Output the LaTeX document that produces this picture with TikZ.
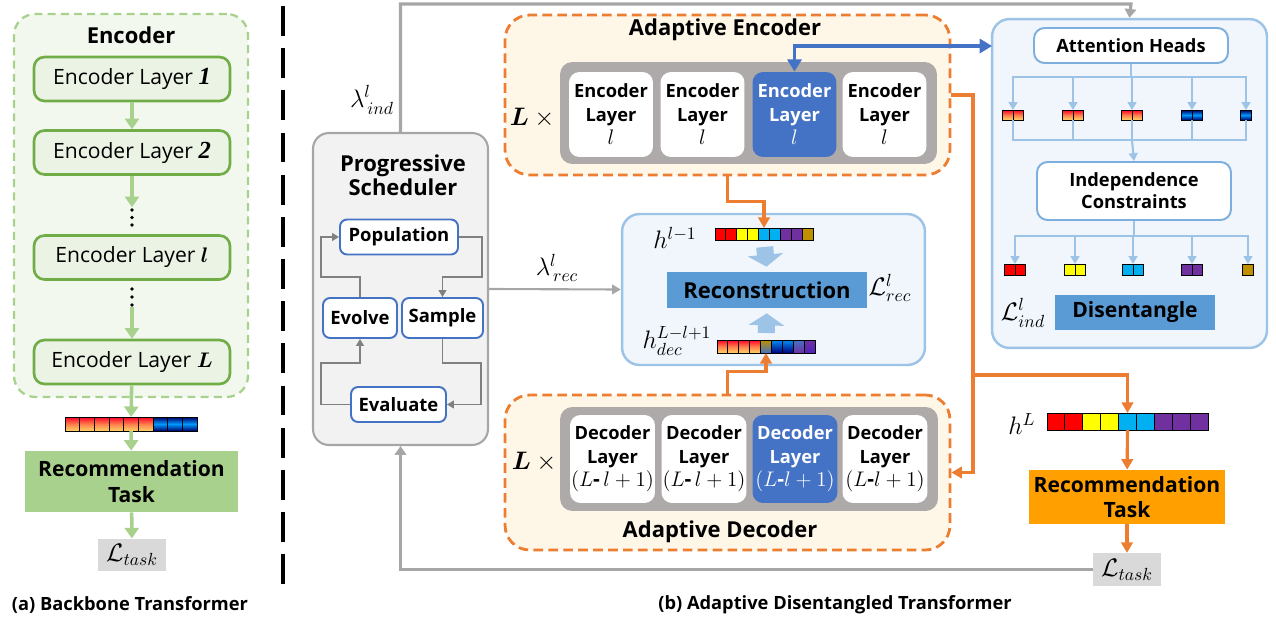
\documentclass[tikz,border=0pt]{standalone}
\usepackage{amsmath}
\usepackage{amssymb}
\usepackage{bm}
\usepackage{fontspec}
\setmainfont{Open Sans}
\newfontfamily\serifnum{Liberation Serif}
\usepackage{tikz}
\usetikzlibrary{arrows.meta}

\definecolor{encfill}{HTML}{F2F8EE}
\definecolor{layerfill}{HTML}{EBF3E4}
\definecolor{layerline}{HTML}{70AD47}
\definecolor{lightgreen}{HTML}{A9D18E}
\definecolor{lossgray}{HTML}{D9D9D9}
\definecolor{linegray}{HTML}{A6A6A6}
\definecolor{schedfill}{HTML}{F2F2F2}
\definecolor{loopgray}{HTML}{808080}
\definecolor{stepblue}{HTML}{4472C4}
\definecolor{adaorange}{HTML}{ED7D31}
\definecolor{adafill}{HTML}{FEF6E6}
\definecolor{innergray}{HTML}{AEAAAA}
\definecolor{panelfill}{HTML}{F0F6FC}
\definecolor{panelline}{HTML}{9DC3E6}
\definecolor{boxblue}{HTML}{5B9BD5}
\definecolor{taskorange}{HTML}{FFA000}
\definecolor{cellred}{HTML}{FF0000}
\definecolor{cellyellow}{HTML}{FFFF00}
\definecolor{cellcyan}{HTML}{00B0F0}
\definecolor{cellpurple}{HTML}{7030A0}
\definecolor{cellgold}{HTML}{BF9000}

\tikzset{
  % boxes
  encpanel/.style={draw=lightgreen, fill=encfill, line width=1.3pt, dash pattern=on 4.5pt off 3pt, rounded corners=12pt},
  enclayer/.style={draw=layerline, fill=layerfill, line width=1.5pt, rounded corners=6pt, minimum width=3.92cm, minimum height=0.88cm, font=\fontsize{12}{13}\selectfont},
  dotsnode/.style={minimum width=0.2cm, minimum height=0.4cm, inner sep=0pt},
  taskbox/.style={minimum width=3.92cm, minimum height=1.08cm, align=center, font=\fontsize{12}{14.5}\selectfont\bfseries, inner sep=0pt},
  lossbox/.style={fill=lossgray, minimum width=1.36cm, minimum height=0.65cm, font=\fontsize{14.4}{16}\selectfont, inner sep=0pt},
  schedbox/.style={draw=linegray, fill=schedfill, line width=1.2pt, rounded corners=9pt},
  stepbox/.style={draw=stepblue, fill=white, line width=1.1pt, rounded corners=4pt, minimum height=0.7cm, font=\fontsize{10.5}{12}\selectfont\bfseries, inner sep=0pt},
  adapanel/.style={draw=adaorange, fill=adafill, line width=1.6pt, dash pattern=on 5.5pt off 3pt, rounded corners=14pt},
  innerrow/.style={fill=innergray, rounded corners=7pt},
  layerbox/.style={fill=white, rounded corners=6pt, align=center, inner sep=0pt, font=\fontsize{10.4}{13.4}\selectfont\bfseries},
  activebox/.style={fill=stepblue, text=white},
  bluepanel/.style={draw=panelline, fill=panelfill, line width=1.4pt, rounded corners=10pt},
  whitebox/.style={draw=boxblue!80, fill=white, line width=1.1pt, rounded corners=6pt, minimum width=3.88cm, align=center, font=\fontsize{10.4}{12.5}\selectfont\bfseries},
  bluebox/.style={fill=boxblue, inner sep=0pt, font=\fontsize{12.5}{14}\selectfont\bfseries},
  titletext/.style={font=\fontsize{12.5}{13.6}\selectfont\bfseries, align=center},
  captiontext/.style={font=\fontsize{10.4}{12}\selectfont\bfseries},
  mathlabel/.style={font=\fontsize{14.4}{16}\selectfont, inner sep=1pt},
  barnode/.style={inner sep=0pt, outer sep=0pt},
  % cells
  cr/.style={fill=cellred, draw=black, line width=0.5pt},
  cy/.style={fill=cellyellow, draw=black, line width=0.5pt},
  cc/.style={fill=cellcyan, draw=black, line width=0.5pt},
  cp/.style={fill=cellpurple, draw=black, line width=0.5pt},
  cg/.style={fill=cellgold, draw=black, line width=0.5pt},
  cw/.style={top color=red!85!magenta, bottom color=yellow!45!orange!60, middle color=red!45!orange!70, draw=black, line width=0.5pt},
  cb/.style={top color=blue!40!black, bottom color=blue!40!black, middle color=cyan!60!blue, draw=black, line width=0.5pt},
  cgb/.style={top color=cellgold, bottom color=stepblue, draw=black, line width=0.5pt},
  ccb/.style={top color=cellcyan!80!blue, bottom color=blue!50!black, draw=black, line width=0.5pt},
  cbp/.style={top color=stepblue, bottom color=cellpurple, draw=black, line width=0.5pt},
  cpp/.style={top color=cellpurple, bottom color=cellpurple!70!blue, draw=black, line width=0.5pt},
  % connectors
  greenarrow/.style={draw=lightgreen, line width=2pt, -{Triangle[length=6pt,width=8pt]}},
  grayarrow/.style={draw=linegray, line width=1.8pt, -{Triangle[length=5pt,width=6.5pt]}},
  thingray/.style={draw=linegray, line width=1.2pt, -{Triangle[length=5pt,width=5.5pt]}},
  looparrow/.style={draw=loopgray, line width=0.8pt, -{Triangle[length=4pt,width=4.5pt]}},
  orangearrow/.style={draw=adaorange, line width=1.8pt, -{Triangle[length=6pt,width=6.5pt]}},
  bluearrow/.style={draw=stepblue, line width=2.2pt, {Triangle[length=7pt,width=8pt]}-{Triangle[length=7pt,width=8pt]}},
  headline/.style={draw=panelline, line width=1.2pt},
  headarrow/.style={headline, -{Triangle[length=4.5pt,width=5pt]}},
  bigarrow/.style={draw=panelline, line width=0.34cm, -{Triangle[length=0.24cm,width=0.7cm]}},
}

% a bar of cells below a named bar node: name, cell width, cell height, styles
\newcommand{\cellbar}[4]{%
  \foreach \s [count=\i from 0] in {#4}
    \path[\s] (#1.north west) ++(\i*#2,0) rectangle ++(#2,#3);
}

\begin{document}
\begin{tikzpicture}[x=0.02cm, y=-0.02cm]
\useasboundingbox (0,0) rectangle (1276,622);

% (a) backbone transformer
\node[encpanel, minimum width=4.68cm, minimum height=7.66cm] (encoder) at (131,205.5) {};
\node[titletext] (enctitle) at (131,35) {Encoder};
\node[enclayer] (enc1) at (132,79) {Encoder Layer {\serifnum\bfseries\itshape\fontsize{14}{14}\selectfont 1}};
\node[enclayer] (enc2) at (132,152.5) {Encoder Layer {\serifnum\bfseries\itshape\fontsize{14}{14}\selectfont 2}};
\node[dotsnode] (dots1) at (132,217.5) {};
\node[enclayer] (encl) at (132,257.5) {Encoder Layer $\boldsymbol{l}$};
\node[dotsnode] (dots2) at (132,297) {};
\node[enclayer] (encL) at (132,362) {Encoder Layer $\boldsymbol{L}$};
\fill (dots1.center) ++(0,-7.5) circle (1.1pt) ++(0,7.5) circle (1.1pt) ++(0,7.5) circle (1.1pt);
\fill (dots2.center) ++(0,-8) circle (1.1pt) ++(0,8) circle (1.1pt) ++(0,8) circle (1.1pt);

\draw[greenarrow] (enc1) -- (enc2);
\draw[greenarrow] (enc2) -- (dots1);
\draw[greenarrow] (dots2) -- (encL);

\node[barnode, minimum width=2.64cm, minimum height=0.28cm] (hback) at (131,424) {};
\cellbar{hback}{14.67}{14}{cw,cw,cw,cw,cw,cw,cb,cb,cb}
\node[taskbox, fill=lightgreen, minimum width=4.26cm, minimum height=1.22cm] (backtask) at (131.5,481.5) {Recommendation\\Task};
\node[lossbox] (backloss) at (132,555) {$\mathcal{L}_{task}$};

\draw[greenarrow] (encL) -- (hback);
\draw[greenarrow] (hback) -- (backtask);
\draw[greenarrow] (backtask) -- (backloss);

\node[captiontext] (capa) at (130,605) {(a) Backbone Transformer};

% divider
\draw[line width=2.4pt, dash pattern=on 17pt off 7pt] (283,6) -- (283,586);

% (b) progressive scheduler
\node[schedbox, minimum width=3.5cm, minimum height=6.24cm] (sched) at (400.5,289) {};
\node[titletext] (schedtitle) at (403,175) {Progressive\\Scheduler};
\node[stepbox, minimum width=2.36cm] (pop) at (399,237) {Population};
\node[stepbox, minimum width=1.48cm, minimum height=0.8cm] (evolve) at (360,318) {Evolve};
\node[stepbox, minimum width=1.62cm, minimum height=0.8cm] (sample) at (442.5,318) {Sample};
\node[stepbox, minimum width=1.9cm] (evaluate) at (398.5,404.5) {Evaluate};

\draw[looparrow] (pop.east) -| (482,277) -| (sample.north);
\draw[looparrow] (sample.south) |- (481,363) |- (evaluate.east);
\draw[looparrow] (evaluate.west) -| (321,363) -| (evolve.south);
\draw[looparrow] (evolve.north) |- (321,277) |- (pop.west);

% adaptive encoder
\node[adapanel, minimum width=8.9cm, minimum height=3.2cm] (aenc) at (727.5,95) {};
\node[titletext] (aenctitle) at (725,30) {Adaptive Encoder};
\node[mathlabel] (encrep) at (535,118) {$\boldsymbol{L}\times{}$};
\node[innerrow, minimum width=7.54cm, minimum height=2.04cm] (encrow) at (748.5,113) {};
\node[layerbox, minimum width=1.68cm, minimum height=1.7cm] (el1) at (611,114.5) {Encoder\\Layer\\{\fontsize{12}{13}\selectfont$l$}};
\node[layerbox, minimum width=1.68cm, minimum height=1.7cm] (el2) at (702.5,114.5) {Encoder\\Layer\\{\fontsize{12}{13}\selectfont$l$}};
\node[layerbox, activebox, minimum width=1.68cm, minimum height=1.7cm] (el3) at (794.5,114.5) {Encoder\\Layer\\{\fontsize{12}{13}\selectfont$l$}};
\node[layerbox, minimum width=1.68cm, minimum height=1.7cm] (el4) at (884.5,114.5) {Encoder\\Layer\\{\fontsize{12}{13}\selectfont$l$}};

% adaptive decoder
\node[adapanel, minimum width=8.9cm, minimum height=3.1cm] (adec) at (727.5,472.5) {};
\node[titletext] (adectitle) at (720,532) {Adaptive Decoder};
\node[mathlabel] (decrep) at (537,462) {$\boldsymbol{L}\times{}$};
\node[innerrow, minimum width=7.56cm, minimum height=2.08cm] (decrow) at (749,459) {};
\node[layerbox, minimum width=1.7cm, minimum height=1.76cm] (dl1) at (612.5,459) {Decoder\\Layer\\{\fontsize{12}{13}\selectfont$(L\text{-}\,l+1)$}};
\node[layerbox, minimum width=1.7cm, minimum height=1.76cm] (dl2) at (704,459) {Decoder\\Layer\\{\fontsize{12}{13}\selectfont$(L\text{-}\,l+1)$}};
\node[layerbox, activebox, minimum width=1.7cm, minimum height=1.76cm] (dl3) at (795,459) {Decoder\\Layer\\{\fontsize{12}{13}\selectfont$(L\text{-}l+1)$}};
\node[layerbox, minimum width=1.7cm, minimum height=1.76cm] (dl4) at (885,459) {Decoder\\Layer\\{\fontsize{12}{13}\selectfont$(L\text{-}l+1)$}};

% reconstruction
\node[bluepanel, minimum width=6.06cm, minimum height=3.02cm] (recon) at (773.5,289.5) {};
\node[mathlabel] (hprevlabel) at (675,238) {$h^{l-1}$};
\node[barnode, minimum width=1.96cm, minimum height=0.24cm] (hprev) at (764,234) {};
\cellbar{hprev}{10.89}{12}{cr,cr,cy,cy,cc,cc,cp,cp,cg}
\node[bluebox, minimum width=4cm, minimum height=0.72cm] (recbox) at (767,290) {Reconstruction};
\node[mathlabel] (reclabel) at (890,288) {$\mathcal{L}^{l}_{rec}$};
\node[mathlabel] (hdeclabel) at (677,341) {$h^{L-l+1}_{dec}$};
\node[barnode, minimum width=1.96cm, minimum height=0.26cm] (hdec) at (766,346.5) {};
\cellbar{hdec}{10.89}{13}{cw,cw,cw,cw,cgb,ccb,ccb,cbp,cpp}

\draw[bigarrow, shorten <=0.14cm, shorten >=0.1cm] (hprev.south) -- (recbox.north);
\draw[bigarrow, shorten <=0.14cm, shorten >=0.1cm] (hdec.north) -- (recbox.south);

% disentangle
\node[bluepanel, minimum width=5.5cm, minimum height=6.58cm] (attn) at (1129.5,183.5) {};
\node[whitebox, minimum height=0.7cm] (heads) at (1131,45.5) {Attention Heads};
\node[barnode, minimum width=0.42cm, minimum height=0.2cm] (h1) at (1013,115) {};
\node[barnode, minimum width=0.42cm, minimum height=0.2cm] (h2) at (1073,115) {};
\node[barnode, minimum width=0.42cm, minimum height=0.2cm] (h3) at (1132,115) {};
\node[barnode, minimum width=0.42cm, minimum height=0.2cm] (h4) at (1192,115) {};
\node[barnode, minimum width=0.21cm, minimum height=0.2cm] (h5) at (1246,115) {};
\cellbar{h1}{10.5}{10}{cw,cw}
\cellbar{h2}{10.5}{10}{cw,cw}
\cellbar{h3}{10.5}{10}{cw,cw}
\cellbar{h4}{10.5}{10}{cb,cb}
\cellbar{h5}{10.5}{10}{cb}
\node[whitebox, minimum height=1.16cm] (indep) at (1134,191) {Independence\\Constraints};
\node[barnode, minimum width=0.42cm, minimum height=0.22cm] (d1) at (1015,269.5) {};
\node[barnode, minimum width=0.42cm, minimum height=0.22cm] (d2) at (1075,269.5) {};
\node[barnode, minimum width=0.42cm, minimum height=0.22cm] (d3) at (1133,269.5) {};
\node[barnode, minimum width=0.42cm, minimum height=0.22cm] (d4) at (1192,269.5) {};
\node[barnode, minimum width=0.21cm, minimum height=0.22cm] (d5) at (1248,269.5) {};
\cellbar{d1}{10.5}{11}{cr,cr}
\cellbar{d2}{10.5}{11}{cy,cy}
\cellbar{d3}{10.5}{11}{cc,cc}
\cellbar{d4}{10.5}{11}{cp,cp}
\cellbar{d5}{10.5}{11}{cg}
\node[mathlabel] (indlabel) at (1023,313) {$\mathcal{L}^{l}_{ind}$};
\node[bluebox, minimum width=3.2cm, minimum height=0.7cm, font=\fontsize{12}{14}\selectfont\bfseries] (disent) at (1135,312.5) {Disentangle};

\coordinate (hsplit) at (1131,77);
\coordinate (hjoin) at (1132,140);
\coordinate (isplit) at (1134,236);
\draw[headline] (heads.south) -- (hsplit);
\foreach \i in {1,...,5} \draw[headarrow] (hsplit) -| (h\i.north);
\foreach \i in {1,...,5} \draw[headline] (h\i.south) |- (hjoin);
\draw[headarrow] (hjoin) -- (indep.north);
\draw[headline] (indep.south) -- (isplit);
\foreach \i in {1,...,5} \draw[headarrow] (isplit) -| (d\i.north);

% output
\node[mathlabel] (hlastlabel) at (1022,424) {$h^{L}$};
\node[barnode, minimum width=3.22cm, minimum height=0.34cm] (hlast) at (1127.5,421.5) {};
\cellbar{hlast}{17.89}{17}{cr,cr,cy,cy,cc,cc,cp,cp,cp}
\node[taskbox, fill=taskorange] (task) at (1127,497) {Recommendation\\Task};
\node[lossbox] (taskloss) at (1127,569.5) {$\mathcal{L}_{task}$};
\draw[orangearrow] (hlast) -- (task);
\draw[orangearrow] (task) -- (taskloss);

% connectors
\coordinate (attnin) at (992,46);
\coordinate (topline) at (1131,4);
\coordinate (split) at (973,375);
\draw[bluearrow] (attnin) -| (el3.north);
\draw[orangearrow] (aenc.south) -- ++(0,25) -| (hprev.north);
\draw[orangearrow] (adec.north) -- ++(0,-22) -| (hdec.south);
\draw[orangearrow] (aenc.east) -- (973,95) |- (adec.east);
\draw[orangearrow] (split) -| (hlast.north);
\draw[grayarrow] (sched.north) |- (topline) -- (attn.north);
\draw[thingray] (sched.east) -- (recon.west);
\draw[grayarrow] (taskloss.west) -| (sched.south);

\node[mathlabel] (indlam) at (372,100) {$\lambda^{l}_{\,ind}$};
\node[mathlabel] (reclam) at (557,268) {$\lambda^{l}_{\,rec}$};

\node[captiontext] (capb) at (835,605) {(b) Adaptive Disentangled Transformer};
\end{tikzpicture}
\end{document}
